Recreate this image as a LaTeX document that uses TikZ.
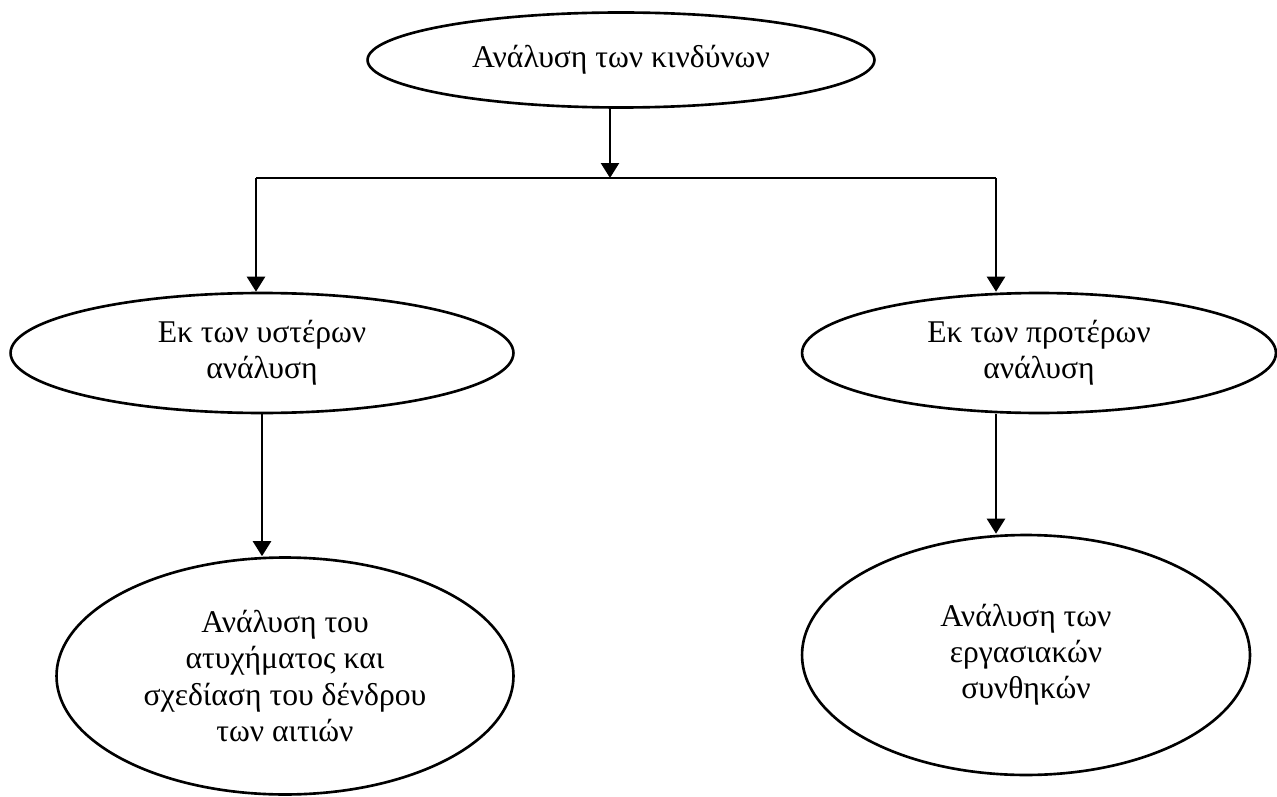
\documentclass[tikz,border=0pt]{standalone}
\usepackage{fontspec}
\setmainfont{Liberation Serif}
\usepackage{tikz}
\usetikzlibrary{shapes.geometric, arrows.meta, positioning, calc}

\begin{document}
\begin{tikzpicture}[x=0.02cm, y=-0.02cm,
    risk/.style={ellipse, draw, line width=1.5pt, inner sep=0pt, align=center,
                 font=\fontsize{18}{20.6}\selectfont},
    arr/.style={line width=1.4pt, -{Triangle[length=0.3cm, width=0.36cm]}},
    link/.style={line width=1.4pt}]
  \useasboundingbox (0,0) rectangle (1277,797);

  % Top node
  \node[risk, minimum width=10.14cm, minimum height=1.9cm] (risks) at (621,60)
       {Ανάλυση των κινδύνων};

  % Two kinds of analysis
  \node[risk, minimum width=10.06cm, minimum height=2.4cm] (after) at (262,353)
       {Εκ των υστέρων\\ανάλυση};
  \node[risk, minimum width=9.48cm, minimum height=2.4cm] (before) at (1039,353)
       {Εκ των προτέρων\\ανάλυση};

  % Bottom nodes
  \node[risk, minimum width=9.14cm, minimum height=4.74cm] (accident) at (285,676)
       {Ανάλυση του\\ατυχήματος και\\σχεδίαση του δένδρου\\των αιτιών};
  \node[risk, minimum width=8.96cm, minimum height=4.8cm] (workcond) at (1026,655)
       {Ανάλυση των\\εργασιακών\\συνθηκών};

  % Branch points
  \coordinate (split) at (610,178);
  \coordinate (splitl) at (256,178);
  \coordinate (splitr) at (996,178);

  % Connections
  \draw[arr] (split |- risks.south) -- (split);
  \draw[link] (splitl) -- (splitr);
  \draw[arr] (splitl) -- (splitl |- after.north);
  \draw[arr] (splitr) -- (splitr |- before.north);
  \draw[arr] (after.south) -- (after.south |- accident.north);
  \draw[arr] (splitr |- before.south) -- (splitr |- workcond.north);
\end{tikzpicture}
\end{document}
